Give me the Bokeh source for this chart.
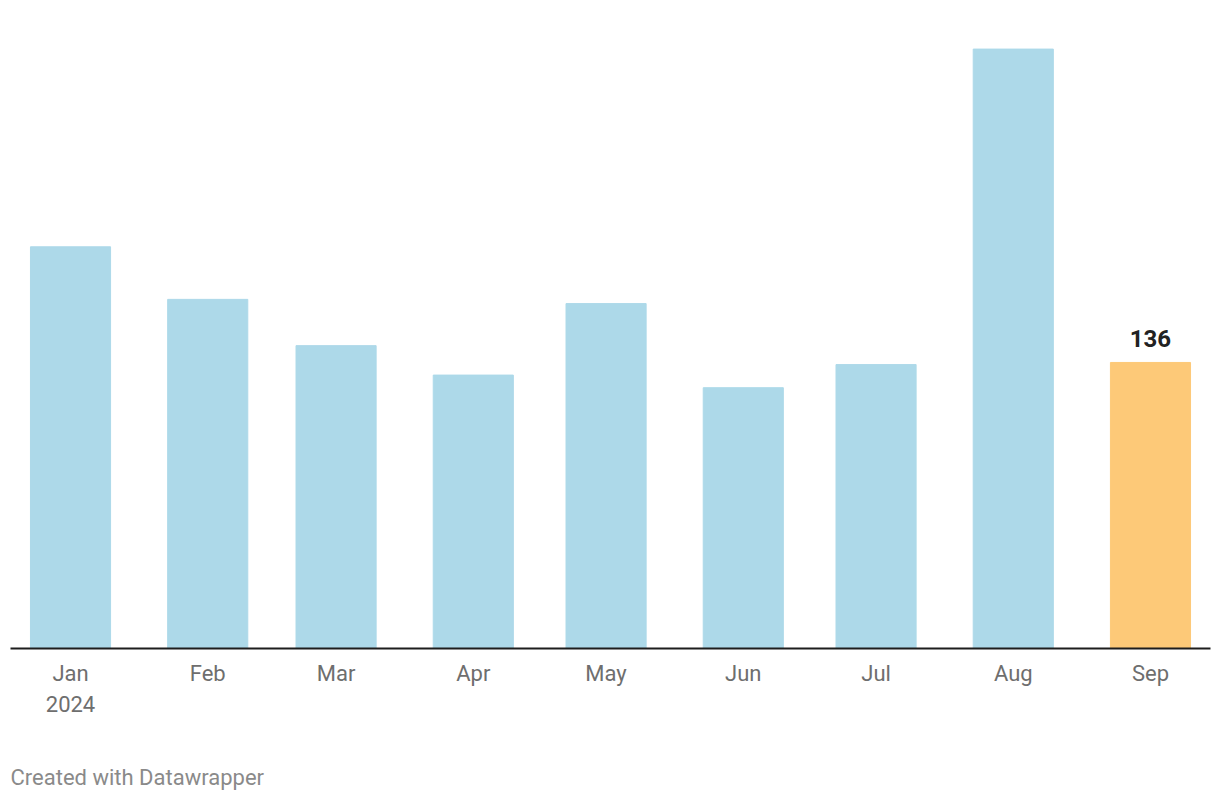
from datetime import datetime
from bokeh.plotting import figure
from bokeh.models import Range1d, FixedTicker, Title, ColumnDataSource
from bokeh.core.properties import value
from bokeh.embed import file_html
from bokeh.resources import INLINE

months = ["2024-01", "2024-02", "2024-03", "2024-04", "2024-05", "2024-06", "2024-07", "2024-08", "2024-09"]
tick_labels = ["Jan\n2024", "Feb", "Mar", "Apr", "May", "Jun", "Jul", "Aug", "Sep"]
values = [191, 166, 144, 130, 164, 124, 135, 285, 136]
colors = ["#add9e9"] * 8 + ["#fdc978"]
highlight_label = ["", "", "", "", "", "", "", "", "136"]

DAY = 86400000.0
def ms(s):
    return (datetime.strptime(s + "-01", "%Y-%m-%d") - datetime(1970, 1, 1)).total_seconds() * 1000.0

xs = [ms(m) for m in months]
src = ColumnDataSource(dict(x=xs, top=values, color=colors, lbl=highlight_label))

p = figure(width=1220, height=800, output_backend="svg", toolbar_location=None,
           x_range=Range1d(xs[0] - 13.56 * DAY, xs[-1] + 13.56 * DAY),
           y_range=Range1d(0, 308.1), y_axis_location=None,
           min_border_left=10, min_border_right=10, min_border_top=0, min_border_bottom=0)
p.outline_line_color = None
p.grid.visible = False
p.background_fill_color = "white"

p.vbar(x="x", top="top", width=18.1 * DAY, bottom=0, color="color", source=src)
p.text(x="x", y="top", text="lbl", source=src, text_align="center", text_baseline="bottom",
       y_offset=-15, text_font=value("Roboto"), text_font_style="bold", text_font_size="24px",
       text_color="#222222")

ax = p.xaxis[0]
ax.ticker = FixedTicker(ticks=xs)
ax.major_label_overrides = {x: l for x, l in zip(xs, tick_labels)}
ax.axis_line_color = "#1d1d1d"
ax.axis_line_width = 2
ax.major_tick_line_color = None
ax.minor_tick_line_color = None
ax.major_label_text_font = "Roboto"
ax.major_label_text_font_size = "22px"
ax.major_label_text_color = "#6e6e6e"
ax.major_label_standoff = 6
ax.major_label_text_line_height = 1.25

footer = Title(text="Created with Datawrapper", align="left", text_font="Roboto",
               text_font_size="22px", text_color="#8a8a8a", text_font_style="normal",
               standoff=22, offset=0, vertical_align="bottom",
               padding=dict(left=0, right=0, top=32, bottom=0))
p.add_layout(footer, "below")

open("out.html", "w").write(file_html(p, INLINE))
